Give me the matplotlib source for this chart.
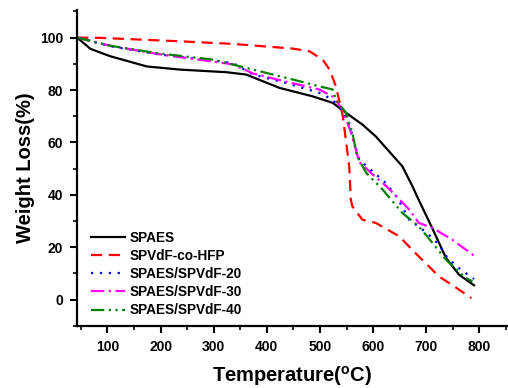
import matplotlib
matplotlib.use('Agg')
import matplotlib.pyplot as plt
from matplotlib.ticker import MultipleLocator

plt.rcParams['font.family'] = ['Liberation Sans', 'DejaVu Sans']
plt.rcParams['font.weight'] = 'bold'
plt.rcParams['mathtext.default'] = 'regular'

# TGA data
t_spaes = [43, 68, 105, 174, 236, 324, 361, 424, 486, 524, 549, 580, 605, 655, 674, 686, 712, 737, 762, 790]
w_spaes = [100, 95.7, 92.9, 89, 87.8, 86.8, 85.9, 80.8, 77.6, 75.1, 71.3, 66.8, 62.3, 50.9, 43.3, 38, 27, 16, 9.5, 5.5]

t_hfp = [43, 86, 236, 336, 449, 480, 505, 518, 530, 543, 555, 558, 561, 580, 605, 649, 686, 724, 762, 785]
w_hfp = [100, 99.9, 98.6, 97.6, 95.8, 94.8, 91.6, 87.8, 81.4, 70, 50.9, 38.2, 35.6, 30.5, 29.3, 24.2, 16.5, 8.9, 3.8, 0.6]

t_20 = [43, 105, 199, 286, 336, 374, 436, 499, 524, 543, 558, 574, 599, 624, 646, 668, 702, 724, 740, 765, 790]
w_20 = [100, 96.7, 93.5, 91.6, 90.3, 85.9, 82.7, 78.9, 76.3, 71.9, 64.9, 53.4, 49, 44.5, 38.8, 30.5, 25.4, 21, 15.9, 11.5, 7.9]

t_30 = [43, 105, 199, 286, 336, 374, 436, 499, 524, 543, 558, 574, 599, 624, 646, 668, 686, 712, 749, 790]
w_30 = [100, 96.9, 93.6, 91.2, 89.8, 86.3, 83.2, 80.2, 77.5, 72.5, 64, 52.5, 47.8, 43.5, 39, 34.4, 29.3, 27.4, 22.9, 16.8]

t_40 = [43, 105, 199, 299, 374, 449, 499, 524, 530, 549, 561, 570, 587, 618, 655, 686, 712, 737, 774, 787]
w_40 = [100, 96.9, 93.9, 91.6, 87.8, 84, 81.4, 80.2, 76.3, 71.3, 63.6, 54.7, 48.4, 42, 33.1, 28, 21.6, 15.3, 8.3, 7]

fig = plt.figure(figsize=(5.08, 3.88), dpi=100)
ax = fig.add_axes([0.152, 0.16, 0.846, 0.814])

lw = 1.6
ax.plot(t_spaes, w_spaes, color='black', lw=lw, label='SPAES')
ax.plot(t_hfp, w_hfp, color='red', lw=lw, ls=(0, (5, 3)), label='SPVdF-co-HFP')
ax.plot(t_20, w_20, color='blue', lw=lw, ls=(0, (1, 3)), label='SPAES/SPVdF-20')
ax.plot(t_30, w_30, color='magenta', lw=lw, ls=(0, (6, 2, 1, 2)), label='SPAES/SPVdF-30')
ax.plot(t_40, w_40, color='green', lw=lw, ls=(0, (6, 2, 1, 2, 1, 2)), label='SPAES/SPVdF-40')

ax.set_xlim(43, 852)
ax.set_ylim(-10, 110.5)
ax.xaxis.set_major_locator(MultipleLocator(100))
ax.xaxis.set_minor_locator(MultipleLocator(50))
ax.yaxis.set_major_locator(MultipleLocator(20))
ax.yaxis.set_minor_locator(MultipleLocator(10))
ax.set_yticks([0, 20, 40, 60, 80, 100])

for s in ['top', 'right']:
    ax.spines[s].set_visible(False)
for s in ['left', 'bottom']:
    ax.spines[s].set_linewidth(1.6)
ax.tick_params(which='major', direction='out', length=5, width=1.5, labelsize=10, pad=5)
ax.tick_params(which='minor', direction='out', length=3, width=1.2)

ax.set_xlabel('Temperature($^{o}$C)', fontsize=14.5, fontweight='bold', labelpad=7)
ax.set_ylabel('Weight Loss(%)', fontsize=14.5, fontweight='bold', labelpad=4)

ax.legend(loc='lower left', bbox_to_anchor=(0.02, 0.01), frameon=False, fontsize=9.8,
          handlelength=2.5, handletextpad=0.35, labelspacing=0.3, borderaxespad=0)

fig.savefig('out.png', dpi=100)
